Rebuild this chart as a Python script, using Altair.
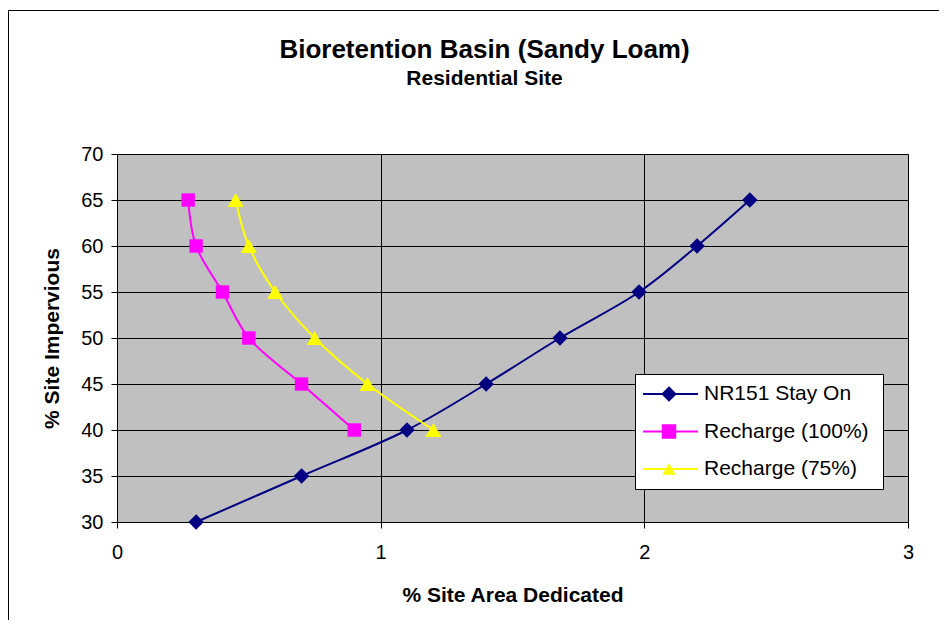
import altair as alt
import pandas as pd

# ---- data ----
series_names = ["NR151 Stay On", "Recharge (100%)", "Recharge (75%)"]

nr151_y = [30, 35, 40, 45, 50, 55, 60, 65]
nr151_x = [0.3, 0.7, 1.1, 1.4, 1.68, 1.98, 2.2, 2.4]

rech100_y = [40, 45, 50, 55, 60, 65]
rech100_x = [0.9, 0.7, 0.5, 0.4, 0.3, 0.27]

rech75_y = [40, 45, 50, 55, 60, 65]
rech75_x = [1.2, 0.95, 0.75, 0.6, 0.5, 0.45]

x_ticks = [0, 1, 2, 3]
y_ticks = [30, 35, 40, 45, 50, 55, 60, 65, 70]

colors = ["#000080", "#FF00FF", "#FFFF00"]
shapes = ["diamond", "square", "triangle-up"]
sizes = [240, 180, 260]

rows = []
for name, xs, ys in [(series_names[0], nr151_x, nr151_y),
                     (series_names[1], rech100_x, rech100_y),
                     (series_names[2], rech75_x, rech75_y)]:
    for xv, yv in zip(xs, ys):
        rows.append({"series": name, "x": xv, "y": yv})
df = pd.DataFrame(rows)
legend_df = pd.DataFrame({"series": series_names})

FONT = "Liberation Sans"

color_scale = alt.Scale(domain=series_names, range=colors)
shape_scale = alt.Scale(domain=series_names, range=shapes)
size_scale = alt.Scale(domain=series_names, range=sizes)

x_enc = alt.X("x:Q", scale=alt.Scale(domain=[0, 3], nice=False, zero=False),
              axis=alt.Axis(values=x_ticks, format="d", title="% Site Area Dedicated"))
y_enc = alt.Y("y:Q", scale=alt.Scale(domain=[30, 70], nice=False, zero=False),
              axis=alt.Axis(values=y_ticks, format="d", title="% Site Impervious"))

base = alt.Chart(df)

lines = base.mark_line(strokeWidth=2, interpolate="catmull-rom").encode(
    x=x_enc, y=y_enc,
    color=alt.Color("series:N", scale=color_scale, legend=None),
    order=alt.Order("y:Q"),
)

point_layers = []
for name, col, shp, sz in zip(series_names, colors, shapes, sizes):
    point_layers.append(
        base.transform_filter(alt.datum.series == name).mark_point(
            filled=True, opacity=1, color=col, shape=shp, size=sz
        ).encode(x=x_enc, y=y_enc)
    )

main = alt.layer(lines, *point_layers)

# ---- legend box (inside the plot, lower right) ----
leg_y = alt.Y("series:N", scale=alt.Scale(domain=series_names, range=[221.25, 333.75]),
              axis=None)
lbase = alt.Chart(legend_df)
leg_box = lbase.mark_rect(fill="white", stroke="black", strokeWidth=1).encode(
    x=alt.value(518.5), x2=alt.value(766.5), y=alt.value(220.5), y2=alt.value(335.5)
).transform_filter(alt.datum.series == series_names[0])
leg_rules = lbase.mark_rule(strokeWidth=2).encode(
    x=alt.value(526), x2=alt.value(581), y=leg_y,
    color=alt.Color("series:N", scale=color_scale, legend=None),
)
leg_pts = lbase.mark_point(filled=True, opacity=1).encode(
    x=alt.value(552), y=leg_y,
    color=alt.Color("series:N", scale=color_scale, legend=None),
    shape=alt.Shape("series:N", scale=shape_scale, legend=None),
    size=alt.Size("series:N", scale=size_scale, legend=None),
)
leg_text = lbase.mark_text(align="left", baseline="middle", font=FONT, fontSize=21,
                           color="black").encode(
    x=alt.value(587), y=leg_y, text="series:N",
)
legend_layer = alt.layer(leg_box, leg_rules, leg_pts, leg_text)

frame = alt.Chart(pd.DataFrame({"k": [0]})).mark_rect(
    fill=None, fillOpacity=0, stroke="black", strokeWidth=1
).encode(x=alt.value(-108.5), x2=alt.value(1000), y=alt.value(-143.5), y2=alt.value(1000))

chart = alt.layer(frame, main, legend_layer).resolve_scale(
    y="independent"
).properties(
    width=791, height=368,
    autosize=alt.AutoSizeParams(type="none"),
    padding={"left": 109, "top": 146, "right": 31, "bottom": 98},
    title=alt.TitleParams(
        text="Bioretention Basin (Sandy Loam)",
        subtitle="Residential Site",
        anchor="middle", frame="group", dx=-28, offset=-79,
        font=FONT, fontSize=26, fontWeight="bold", color="black",
        subtitleFont=FONT, subtitleFontSize=21, subtitleFontWeight="bold",
        subtitleColor="black", subtitlePadding=5,
    ),
).configure_view(
    fill="#C0C0C0", stroke="#808080", strokeWidth=1
).configure_axis(
    labelFont=FONT, labelFontSize=20, labelColor="black", labelFlush=False,
    titleFont=FONT, titleFontSize=21, titleFontWeight="bold", titleColor="black",
    domainColor="black", domainWidth=1,
    tickColor="black", tickSize=6, tickWidth=1,
    grid=True, gridColor="black", gridWidth=1, gridOpacity=1,
).configure_axisX(
    labelPadding=14, titlePadding=22,
).configure_axisY(
    labelPadding=8, titlePadding=18,
)

chart.save("out.html", embed_options={"renderer": "svg", "actions": False})
